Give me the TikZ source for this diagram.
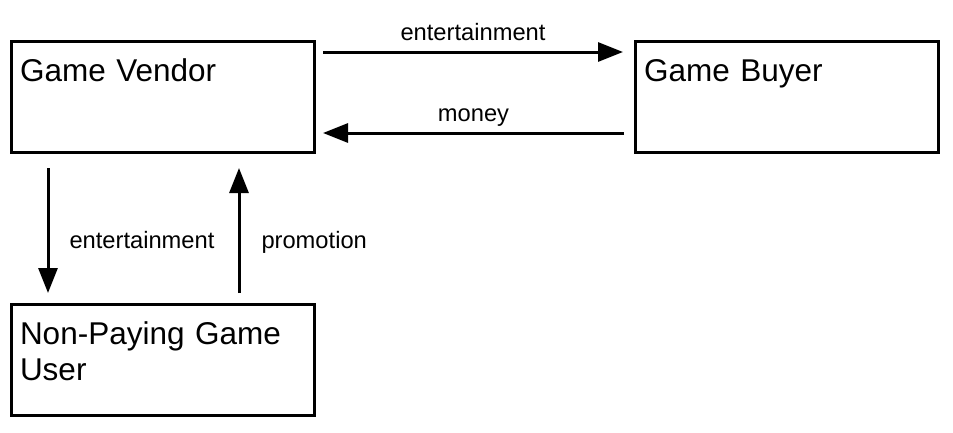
\documentclass[tikz,border=0pt]{standalone}
\usepackage{fontspec}
\setmainfont{Liberation Sans}
\usepackage{tikz}
\usetikzlibrary{positioning,arrows.meta}

\begin{document}
\begin{tikzpicture}[
    box/.style={draw, line width=3pt, outer sep=0pt, text width=285pt, align=left,
        inner xsep=9pt, inner ysep=18pt, text height=22.6pt, text depth=52.4pt,
        font=\fontsize{31.5pt}{36pt}\selectfont},
    lbl/.style={font=\fontsize{23.7pt}{28pt}\selectfont, inner sep=0pt},
    arrow/.style={-{Triangle[length=25pt,width=19pt]}, line width=3pt},
    node distance=152pt and 321pt
]
    \useasboundingbox (0,0) rectangle (953pt,-432pt);

    % Parties
    \node[box] (vendor) at (162.5pt,-96.5pt) {Game Vendor};
    \node[box, right=of vendor] (buyer) {Game Buyer};
    \node[box, below=of vendor] (user) {Non-Paying Game\\User};

    % Vendor <-> buyer
    \draw[arrow] ([xshift=9pt,yshift=-11pt]vendor.north east) -- ([xshift=-12pt,yshift=-11pt]buyer.north west)
        node[lbl, midway, anchor=base, yshift=12pt] (ent1) {entertainment};
    \draw[arrow] ([xshift=-11pt,yshift=19pt]buyer.south west) -- ([xshift=9pt,yshift=19pt]vendor.south east)
        node[lbl, midway, anchor=base, yshift=12pt] (money) {money};

    % Vendor <-> non-paying user
    \draw[arrow] ([xshift=37pt,yshift=-16pt]vendor.south west) -- ([xshift=37pt,yshift=11pt]user.north west)
        node[lbl, midway, anchor=base west, xshift=20pt, yshift=-17.5pt] (ent2) {entertainment};
    \draw[arrow] ([xshift=228pt,yshift=11pt]user.north west) -- ([xshift=228pt,yshift=-16pt]vendor.south west)
        node[lbl, midway, anchor=base west, xshift=21pt, yshift=-17.5pt] (promo) {promotion};
\end{tikzpicture}
\end{document}
